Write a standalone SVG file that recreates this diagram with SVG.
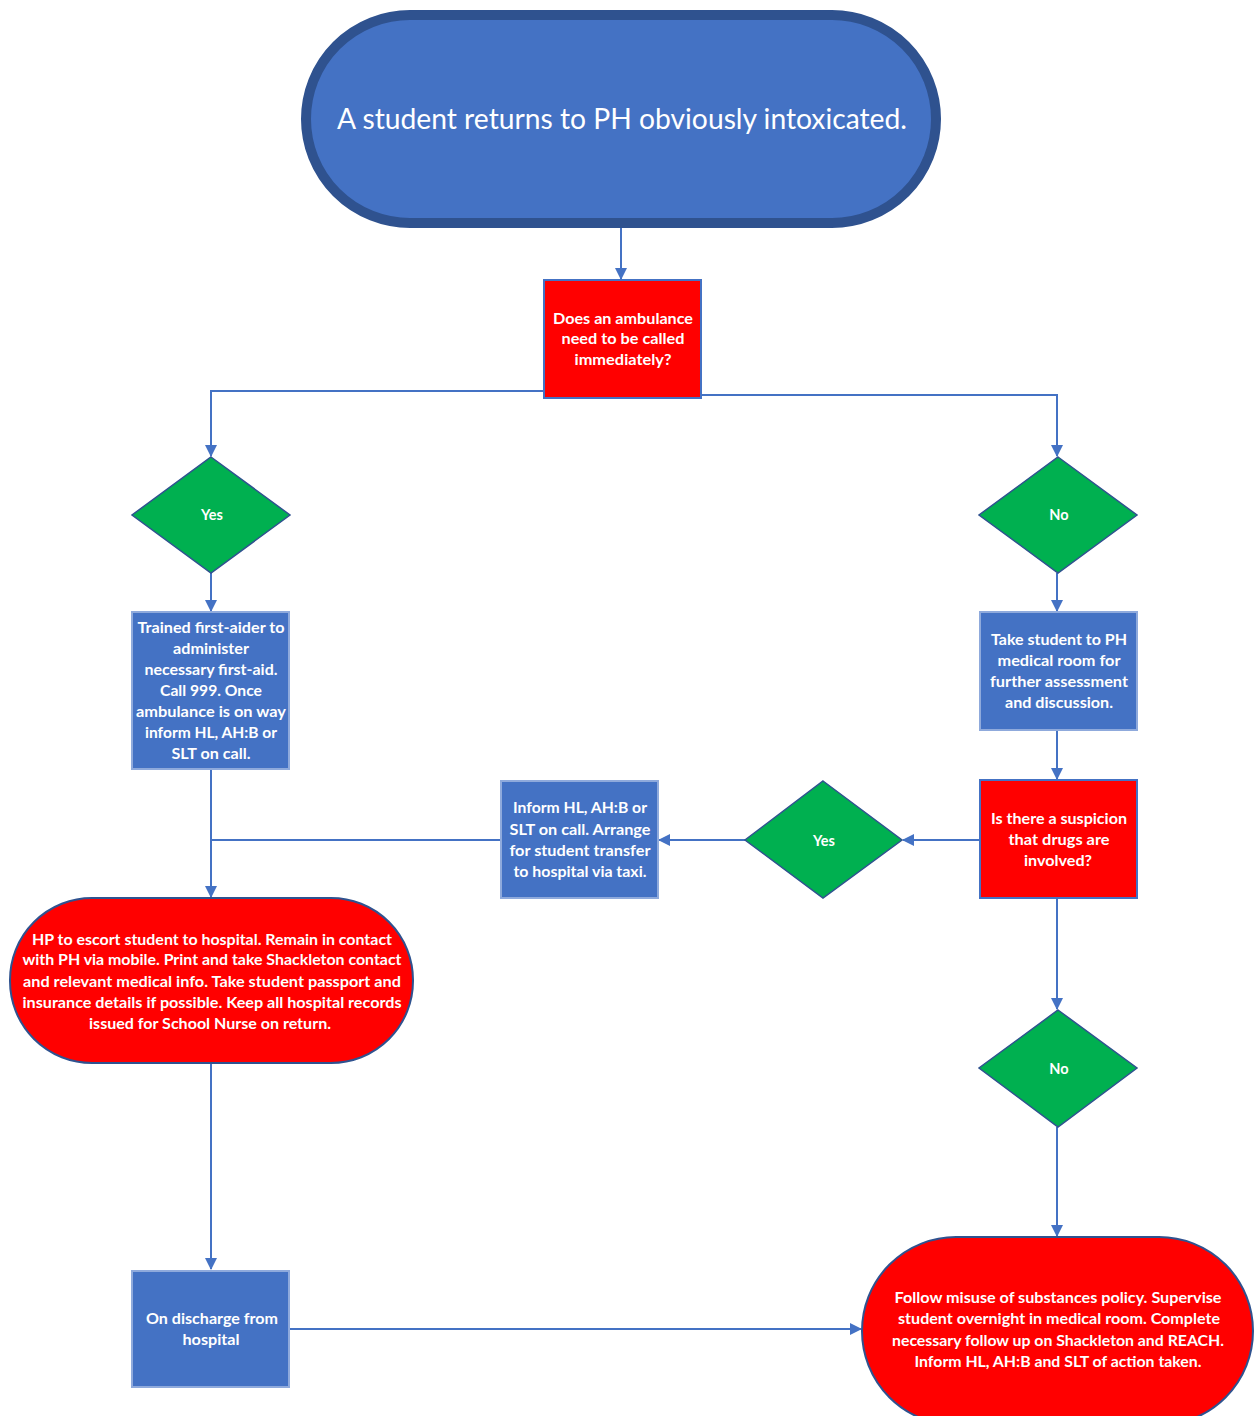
<svg xmlns="http://www.w3.org/2000/svg" width="1255" height="1416" viewBox="0 0 1255 1416">
<defs>
<marker id="ah" markerWidth="12" markerHeight="12" refX="11" refY="6" orient="auto" markerUnits="userSpaceOnUse">
<path d="M0,0 L12,6 L0,12 Z" fill="#4472C4"/>
</marker>
<style>
.t{font-family:Lato,"Liberation Sans",sans-serif;font-weight:bold;fill:#fff;text-anchor:middle;font-size:14.5px;}
.big{font-weight:normal;font-size:29px;}
.box{fill:#4472C4;stroke:#8FAADC;stroke-width:2;}
.q{fill:#FF0000;stroke:#4472C4;stroke-width:2;}
.dia{fill:#00B050;stroke:#2F528F;stroke-width:1.5;}
.ov{fill:#FF0000;stroke:#2F528F;stroke-width:2;}
.c{fill:none;stroke:#4472C4;stroke-width:2;}
</style>
</defs>
<rect width="1255" height="1416" fill="#fff"/>
<g id="connectors">
<path class="c" d="M621,228 V279" marker-end="url(#ah)"/>
<path class="c" d="M544,391 H211 V456" marker-end="url(#ah)"/>
<path class="c" d="M701,395 H1057 V456" marker-end="url(#ah)"/>
<path class="c" d="M211,573 V611" marker-end="url(#ah)"/>
<path class="c" d="M1057,573 V611" marker-end="url(#ah)"/>
<path class="c" d="M1057,730 V779" marker-end="url(#ah)"/>
<path class="c" d="M980,840 H903" marker-end="url(#ah)"/>
<path class="c" d="M745,840 H659" marker-end="url(#ah)"/>
<path class="c" d="M501,840 H211"/>
<path class="c" d="M211,769 V897" marker-end="url(#ah)"/>
<path class="c" d="M211,1063 V1269" marker-end="url(#ah)"/>
<path class="c" d="M289,1329 H861" marker-end="url(#ah)"/>
<path class="c" d="M1057,898 V1009" marker-end="url(#ah)"/>
<path class="c" d="M1057,1127 V1236" marker-end="url(#ah)"/>
</g>
<g id="start">
<rect x="306" y="15" width="630" height="208" rx="104" fill="#4472C4" stroke="#2F528F" stroke-width="10"/>
<text class="t big" x="622" y="129" textLength="570" lengthAdjust="spacingAndGlyphs">A student returns to PH obviously intoxicated.</text>
</g>
<g id="q1">
<rect class="q" x="544" y="280" width="157" height="118"/>
<text class="t" font-size="14" x="623" y="324" textLength="140" lengthAdjust="spacingAndGlyphs">Does an ambulance</text>
<text class="t" font-size="14" x="623" y="344" textLength="123" lengthAdjust="spacingAndGlyphs">need to be called</text>
<text class="t" font-size="14" x="623" y="365" textLength="97" lengthAdjust="spacingAndGlyphs">immediately?</text>
</g>
<g id="yes1">
<polygon class="dia" points="211,457 290,515 211,573 132,515"/>
<text class="t" x="212" y="520">Yes</text>
</g>
<g id="no1">
<polygon class="dia" points="1058,457 1137,515 1058,573 979,515"/>
<text class="t" x="1059" y="520">No</text>
</g>
<g id="firstaid">
<rect class="box" x="132" y="612" width="157" height="157"/>
<text class="t" x="211" y="633" textLength="147" lengthAdjust="spacingAndGlyphs">Trained first-aider to</text>
<text class="t" x="211" y="654" textLength="76" lengthAdjust="spacingAndGlyphs">administer</text>
<text class="t" x="211" y="675" textLength="133" lengthAdjust="spacingAndGlyphs">necessary first-aid.</text>
<text class="t" x="211" y="696" textLength="102" lengthAdjust="spacingAndGlyphs">Call 999. Once</text>
<text class="t" x="211" y="717" textLength="150" lengthAdjust="spacingAndGlyphs">ambulance is on way</text>
<text class="t" x="211" y="738" textLength="132" lengthAdjust="spacingAndGlyphs">inform HL, AH:B or</text>
<text class="t" x="211" y="759" textLength="79" lengthAdjust="spacingAndGlyphs">SLT on call.</text>
</g>
<g id="medroom">
<rect class="box" x="980" y="612" width="157" height="118"/>
<text class="t" x="1059" y="645" textLength="136" lengthAdjust="spacingAndGlyphs">Take student to PH</text>
<text class="t" x="1059" y="666" textLength="123" lengthAdjust="spacingAndGlyphs">medical room for</text>
<text class="t" x="1059" y="687" textLength="138" lengthAdjust="spacingAndGlyphs">further assessment</text>
<text class="t" x="1059" y="708" textLength="108" lengthAdjust="spacingAndGlyphs">and discussion.</text>
</g>
<g id="q2">
<rect class="q" x="980" y="780" width="157" height="118"/>
<text class="t" x="1059" y="824" textLength="136" lengthAdjust="spacingAndGlyphs">Is there a suspicion</text>
<text class="t" x="1059" y="845" textLength="101" lengthAdjust="spacingAndGlyphs">that drugs are</text>
<text class="t" x="1058" y="866" textLength="68" lengthAdjust="spacingAndGlyphs">involved?</text>
</g>
<g id="yes2">
<polygon class="dia" points="823,781 902,840 823,898 745,840"/>
<text class="t" x="824" y="846">Yes</text>
</g>
<g id="taxi">
<rect class="box" x="501" y="781" width="157" height="117"/>
<text class="t" x="580" y="813" textLength="134" lengthAdjust="spacingAndGlyphs">Inform HL, AH:B or</text>
<text class="t" x="580" y="835" textLength="141" lengthAdjust="spacingAndGlyphs">SLT on call. Arrange</text>
<text class="t" x="580" y="856" textLength="141" lengthAdjust="spacingAndGlyphs">for student transfer</text>
<text class="t" x="580" y="877" textLength="133" lengthAdjust="spacingAndGlyphs">to hospital via taxi.</text>
</g>
<g id="escort">
<rect class="ov" x="10" y="898" width="403" height="165" rx="82"/>
<text class="t" x="212" y="945" textLength="360" lengthAdjust="spacingAndGlyphs">HP to escort student to hospital. Remain in contact</text>
<text class="t" x="212" y="965" textLength="379" lengthAdjust="spacingAndGlyphs">with PH via mobile. Print and take Shackleton contact</text>
<text class="t" x="212" y="987" textLength="378" lengthAdjust="spacingAndGlyphs">and relevant medical info. Take student passport and</text>
<text class="t" x="212" y="1008" textLength="379" lengthAdjust="spacingAndGlyphs">insurance details if possible. Keep all hospital records</text>
<text class="t" x="210" y="1029" textLength="242" lengthAdjust="spacingAndGlyphs">issued for School Nurse on return.</text>
</g>
<g id="no2">
<polygon class="dia" points="1058,1010 1137,1068 1058,1127 979,1068"/>
<text class="t" x="1059" y="1074">No</text>
</g>
<g id="discharge">
<rect class="box" x="132" y="1271" width="157" height="116"/>
<text class="t" x="212" y="1324" textLength="132" lengthAdjust="spacingAndGlyphs">On discharge from</text>
<text class="t" x="211" y="1345" textLength="57" lengthAdjust="spacingAndGlyphs">hospital</text>
</g>
<g id="policy">
<rect class="ov" x="862" y="1237" width="391" height="188" rx="94"/>
<text class="t" x="1058" y="1303" textLength="327" lengthAdjust="spacingAndGlyphs">Follow  misuse of substances policy. Supervise</text>
<text class="t" x="1059" y="1324" textLength="322" lengthAdjust="spacingAndGlyphs">student overnight in medical room. Complete</text>
<text class="t" x="1058" y="1346" textLength="332" lengthAdjust="spacingAndGlyphs">necessary follow up on Shackleton and REACH.</text>
<text class="t" x="1058" y="1367" textLength="287" lengthAdjust="spacingAndGlyphs">Inform HL, AH:B and SLT of action taken.</text>
</g>
</svg>
